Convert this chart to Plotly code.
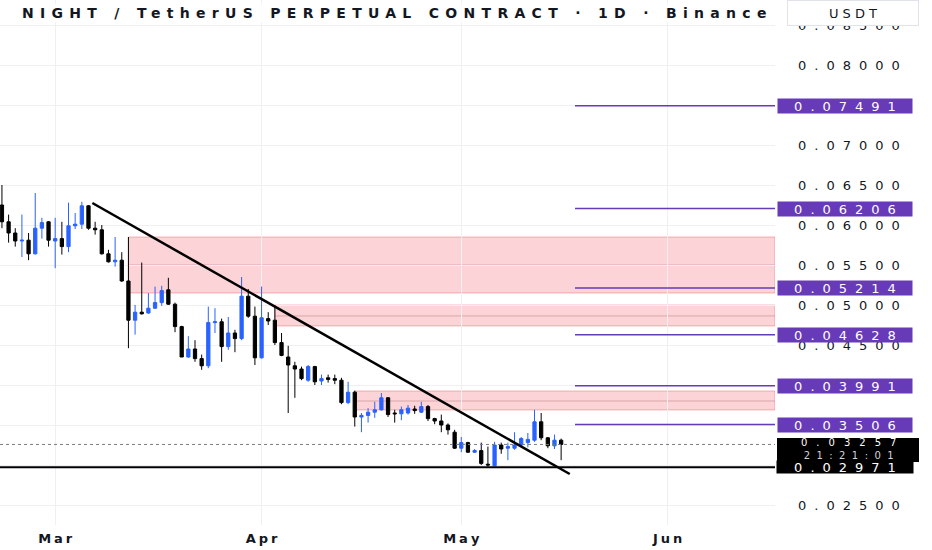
import pandas as pd
import plotly.graph_objects as go

# ── Data (daily candles from 2026-02-21) ──────────────────────────────────────
opens = [0.0625, 0.0604, 0.0590, 0.0580, 0.0581, 0.0564, 0.0596, 0.0604, 0.0580, 0.0583,
         0.0573, 0.0599, 0.0601, 0.0624, 0.0596, 0.0594, 0.0564, 0.0554, 0.0556, 0.0530,
         0.0481, 0.0491, 0.0490, 0.0496, 0.0503, 0.0519, 0.0501, 0.0473, 0.0435, 0.0445,
         0.0433, 0.0424, 0.0478, 0.0479, 0.0448, 0.0465, 0.0458, 0.0511, 0.0486, 0.0434,
         0.0483, 0.0481, 0.0453, 0.0435, 0.0424, 0.0420, 0.0406, 0.0423, 0.0405, 0.0409,
         0.0408, 0.0406, 0.0378, 0.0391, 0.0360, 0.0362, 0.0366, 0.0369, 0.0384, 0.0365,
         0.0364, 0.0365, 0.0370, 0.0366, 0.0373, 0.0358, 0.0355, 0.0350, 0.0341, 0.0321,
         0.0328, 0.0316, 0.0318, 0.0301, 0.0299, 0.0325, 0.0321, 0.0321, 0.0325, 0.0328,
         0.0331, 0.0354, 0.0334, 0.0324, 0.0331]
highs = [0.0650, 0.0613, 0.0596, 0.0613, 0.0590, 0.0640, 0.0609, 0.0605, 0.0609, 0.0604,
         0.0628, 0.0615, 0.0629, 0.0625, 0.0604, 0.0600, 0.0569, 0.0585, 0.0566, 0.0585,
         0.0500, 0.0553, 0.0515, 0.0523, 0.0524, 0.0534, 0.0503, 0.0474, 0.0461, 0.0456,
         0.0438, 0.0498, 0.0496, 0.0483, 0.0485, 0.0469, 0.0535, 0.0520, 0.0498, 0.0523,
         0.0491, 0.0500, 0.0465, 0.0449, 0.0429, 0.0423, 0.0425, 0.0424, 0.0413, 0.0413,
         0.0413, 0.0409, 0.0404, 0.0393, 0.0365, 0.0371, 0.0379, 0.0390, 0.0385, 0.0369,
         0.0373, 0.0375, 0.0374, 0.0379, 0.0375, 0.0359, 0.0363, 0.0352, 0.0344, 0.0335,
         0.0329, 0.0320, 0.0328, 0.0323, 0.0329, 0.0328, 0.0328, 0.0341, 0.0335, 0.0340,
         0.0369, 0.0365, 0.0335, 0.0338, 0.0333]
lows = [0.0596, 0.0578, 0.0573, 0.0560, 0.0556, 0.0563, 0.0583, 0.0573, 0.0546, 0.0563,
        0.0566, 0.0595, 0.0595, 0.0594, 0.0588, 0.0563, 0.0553, 0.0548, 0.0529, 0.0446,
        0.0463, 0.0488, 0.0489, 0.0495, 0.0499, 0.0500, 0.0466, 0.0435, 0.0434, 0.0429,
        0.0419, 0.0421, 0.0465, 0.0429, 0.0444, 0.0441, 0.0456, 0.0484, 0.0425, 0.0433,
        0.0475, 0.0450, 0.0436, 0.0365, 0.0384, 0.0406, 0.0404, 0.0400, 0.0400, 0.0403,
        0.0401, 0.0376, 0.0376, 0.0348, 0.0341, 0.0353, 0.0359, 0.0368, 0.0360, 0.0353,
        0.0356, 0.0363, 0.0364, 0.0365, 0.0355, 0.0351, 0.0341, 0.0338, 0.0320, 0.0316,
        0.0315, 0.0315, 0.0300, 0.0298, 0.0298, 0.0314, 0.0306, 0.0319, 0.0322, 0.0322,
        0.0329, 0.0331, 0.0321, 0.0320, 0.0306]
closes = [0.0604, 0.0590, 0.0580, 0.0581, 0.0564, 0.0596, 0.0603, 0.0581, 0.0583, 0.0573,
          0.0599, 0.0601, 0.0624, 0.0596, 0.0594, 0.0564, 0.0554, 0.0556, 0.0530, 0.0481,
          0.0491, 0.0489, 0.0496, 0.0503, 0.0518, 0.0501, 0.0473, 0.0435, 0.0445, 0.0433,
          0.0424, 0.0478, 0.0479, 0.0448, 0.0465, 0.0458, 0.0511, 0.0486, 0.0434, 0.0484,
          0.0480, 0.0453, 0.0437, 0.0425, 0.0420, 0.0408, 0.0423, 0.0404, 0.0408, 0.0407,
          0.0406, 0.0378, 0.0391, 0.0360, 0.0362, 0.0366, 0.0369, 0.0384, 0.0363, 0.0364,
          0.0369, 0.0371, 0.0368, 0.0373, 0.0358, 0.0355, 0.0350, 0.0344, 0.0321, 0.0328,
          0.0316, 0.0318, 0.0302, 0.0300, 0.0325, 0.0320, 0.0323, 0.0325, 0.0333, 0.0332,
          0.0354, 0.0334, 0.0324, 0.0331, 0.03257]
dates = pd.date_range("2026-02-21", periods=len(closes), freq="D")

# supply zones (pink boxes)
zone_start = ["2026-03-12", "2026-04-03", "2026-04-15"]
zone_top = [0.0585, 0.0500, 0.03925]
zone_bottom = [0.0515, 0.04738, 0.03688]
zone_mid = [0.0550, 0.04863, 0.0380]

# purple target levels
levels = [0.07491, 0.06206, 0.05214, 0.04628, 0.03991, 0.03506]
level_start = "2026-05-18 02:00"

# falling trend line
trend_x = ["2026-03-06 14:00", "2026-05-17 07:00"]
trend_y = [0.06275, 0.028875]

support = 0.02971
last_price = 0.03257
countdown = "21:21:01"

price_ticks = [0.025, 0.030, 0.035, 0.040, 0.045, 0.050, 0.055, 0.060, 0.065, 0.070, 0.075, 0.080, 0.085]
price_labels = ["0.02500", "", "", "", "0.04500", "0.05000", "0.05500", "0.06000",
                "0.06500", "0.07000", "", "0.08000", "0.08500"]
month_ticks = ["2026-03-01", "2026-04-01", "2026-05-01", "2026-06-01"]
month_labels = ["Mar", "Apr", "May", "Jun"]

x_range = ["2026-02-20 17:00", "2026-06-17 03:00"]
y_range = [0.0225, 0.088125]

BLUE = "#2962ff"
PURPLE = "#673ab7"
INK = "#131722"
GRID = "#eef0f4"
FONT = "DejaVu Sans"
PLOT_W, PLOT_H = 775, 525   # plot area in px
NUM_SIZE, NUM_LS = 13, 8


def wide(s, ls):
    # the reference text is very wide; spread the letters (no trailing gap after the last one)
    if not s:
        return s
    return f"<span style='letter-spacing:{ls}px'>{s[:-1]}</span>{s[-1]}"


def py(px):
    return 1 - px / PLOT_H


fig = go.Figure(go.Candlestick(
    x=dates, open=opens, high=highs, low=lows, close=closes,
    increasing=dict(line=dict(color=BLUE, width=1), fillcolor=BLUE),
    decreasing=dict(line=dict(color="#000000", width=1), fillcolor="#000000"),
    whiskerwidth=0, showlegend=False, hoverinfo="skip",
))

# ── Zones ─────────────────────────────────────────────────────────────────────
for x0, top, bot, mid in zip(zone_start, zone_top, zone_bottom, zone_mid):
    fig.add_shape(type="rect", x0=x0, x1=x_range[1], y0=bot, y1=top, layer="below",
                  fillcolor="rgba(242,54,69,0.22)", line=dict(color="rgba(242,54,69,0.35)", width=1))
    fig.add_shape(type="line", x0=x0, x1=x_range[1], y0=mid, y1=mid, layer="below",
                  line=dict(color="rgba(150,90,90,0.35)", width=1))

# ── Lines ─────────────────────────────────────────────────────────────────────
fig.add_shape(type="line", xref="paper", x0=0, x1=1, y0=last_price, y1=last_price,
              line=dict(color="#787b86", width=1, dash="dot"))
fig.add_shape(type="line", xref="paper", x0=0, x1=1, y0=support, y1=support,
              line=dict(color="#000000", width=2))
fig.add_shape(type="line", x0=trend_x[0], x1=trend_x[1], y0=trend_y[0], y1=trend_y[1],
              line=dict(color="#000000", width=2.5))
for lv in levels:
    fig.add_shape(type="line", x0=level_start, x1=x_range[1], y0=lv, y1=lv,
                  line=dict(color=PURPLE, width=1.5))

# ── Price axis labels ─────────────────────────────────────────────────────────
LX = 845 / PLOT_W
for lv in levels:
    fig.add_annotation(xref="paper", x=LX, y=lv, xanchor="center", yanchor="middle",
                       text=wide(f"{lv:.5f}", NUM_LS), showarrow=False,
                       bgcolor=PURPLE, width=134, height=14, borderpad=0,
                       font=dict(family=FONT, size=NUM_SIZE, color="white"))

# last price + countdown box
fig.add_shape(type="rect", xref="paper", yref="paper", x0=777 / PLOT_W, x1=919 / PLOT_W,
              y0=py(462), y1=py(438), fillcolor="#000000", line=dict(width=0))
fig.add_annotation(xref="paper", yref="paper", x=848 / PLOT_W, y=py(448.5),
                   xanchor="center", yanchor="middle",
                   text=wide(f"{last_price:.5f}", 9) + "<br>"
                   + f"<span style='color:#d1d4dc'>{wide(countdown, 6.4)}</span>",
                   showarrow=False, font=dict(family=FONT, size=10, color="white"))
fig.add_annotation(xref="paper", x=LX, y=support, xanchor="center", yanchor="middle",
                   text=wide(f"{support:.5f}", NUM_LS), showarrow=False,
                   bgcolor="#000000", width=136, height=12, borderpad=0,
                   font=dict(family=FONT, size=NUM_SIZE, color="white"))

# ── Header ────────────────────────────────────────────────────────────────────
fig.add_annotation(xref="paper", yref="paper", x=20 / PLOT_W, y=py(13),
                   xanchor="left", yanchor="middle",
                   text=wide("NIGHT / TetherUS PERPETUAL CONTRACT · 1D · Binance", 6.3),
                   showarrow=False, bgcolor="rgba(255,255,255,0.85)",
                   font=dict(family=FONT, size=14, color=INK, weight="bold"))
fig.add_annotation(xref="paper", yref="paper", x=853 / PLOT_W, y=py(13.5),
                   xanchor="center", yanchor="middle",
                   text=wide("USDT", 4), showarrow=False, bgcolor="white", bordercolor="#e0e3eb",
                   borderwidth=1, width=130, height=24, borderpad=0,
                   font=dict(family=FONT, size=13, color=INK))

fig.update_xaxes(type="date", range=x_range, rangeslider_visible=False,
                 tickvals=month_ticks, ticktext=[wide(m, 3) for m in month_labels],
                 showgrid=True, gridcolor=GRID, zeroline=False,
                 showline=False, ticks="", automargin=False, ticklabelstandoff=4,
                 tickfont=dict(family=FONT, size=13, color=INK, weight="bold"))
fig.update_yaxes(side="right", range=y_range, tickvals=price_ticks,
                 ticktext=[wide(t, NUM_LS) for t in price_labels],
                 showgrid=True, gridcolor=GRID, zeroline=False, showline=False, ticks="",
                 ticklabelstandoff=22, automargin=False,
                 tickfont=dict(family=FONT, size=NUM_SIZE, color=INK))
fig.update_layout(width=932, height=550, margin=dict(l=0, r=932 - PLOT_W, t=0, b=550 - PLOT_H),
                  plot_bgcolor="white", paper_bgcolor="white", showlegend=False)

fig.write_html("out.html", config={"displayModeBar": False},
               post_script="document.body.style.margin='0px';")
